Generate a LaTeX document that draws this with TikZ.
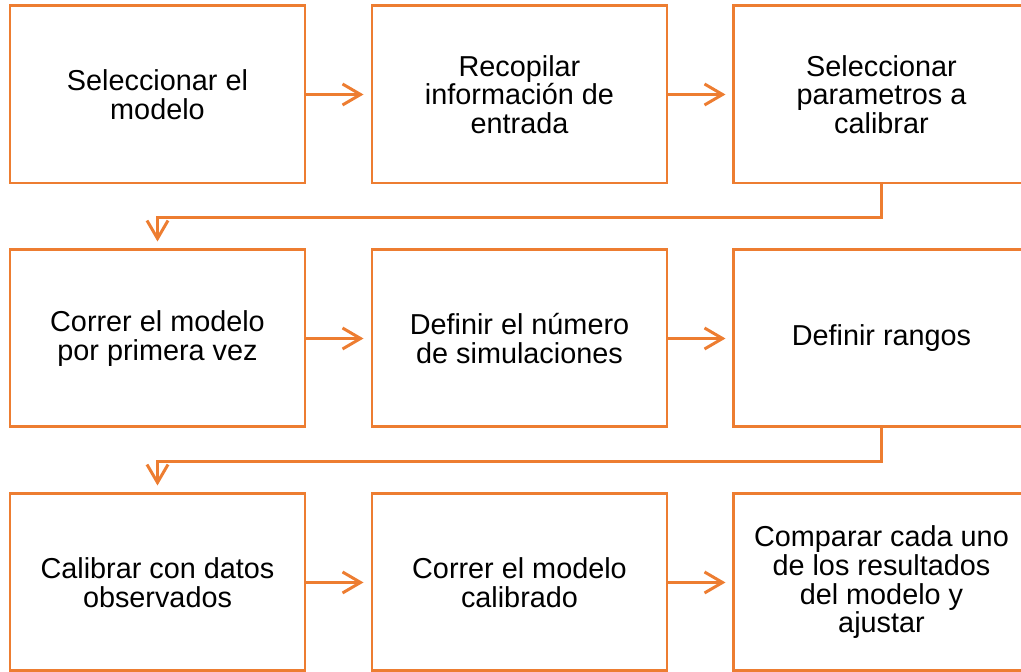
\documentclass[tikz,border=0pt]{standalone}
\usepackage{xcolor}
\usepackage{fontspec}
\setmainfont{Liberation Sans}
\usetikzlibrary{positioning,arrows.meta}
\definecolor{boxorange}{HTML}{ED7D31}

\begin{document}
\begin{tikzpicture}[
  node distance=1.28cm, % defines the space between the boxes
  step box/.style={rectangle,draw=boxorange,line width=1.7pt,fill=white,
    minimum width=5.9cm,minimum height=3.54cm,align=center,
    font=\fontsize{16.4pt}{16.3pt}\selectfont}, % style of the boxes
  flow/.style={draw=boxorange,line width=1.7pt,
    -{Straight Barb[length=0.36cm,width=0.42cm]},shorten >=0.14cm} % style of the connectors
  ]
  \clip (0,0) rectangle (20.42,13.42);

  \node[step box] (sel) at (3.15,11.53) {Seleccionar el\\modelo};
  \node[step box] (rec) [right=of sel] {Recopilar\\información de\\entrada};
  \node[step box] (par) [right=of rec] {Seleccionar\\parametros a\\calibrar};
  \node[step box] (cor) [below=of sel] {Correr el modelo\\por primera vez};
  \node[step box] (num) [right=of cor] {Definir el número\\de simulaciones};
  \node[step box] (ran) [right=of num] {Definir rangos};
  \node[step box] (cal) [below=of cor] {Calibrar con datos\\observados};
  \node[step box] (cmc) [right=of cal] {Correr el modelo\\calibrado};
  \node[step box] (cmp) [right=of cmc] {Comparar cada uno\\de los resultados\\del modelo y\\ajustar};

  \draw[flow] (sel) -- (rec);
  \draw[flow] (rec) -- (par);
  \draw[flow] (par.south) -- ++(0,-0.66) -| (cor.north);
  \draw[flow] (cor) -- (num);
  \draw[flow] (num) -- (ran);
  \draw[flow] (ran.south) -- ++(0,-0.66) -| (cal.north);
  \draw[flow] (cal) -- (cmc);
  \draw[flow] (cmc) -- (cmp);
\end{tikzpicture}
\end{document}
